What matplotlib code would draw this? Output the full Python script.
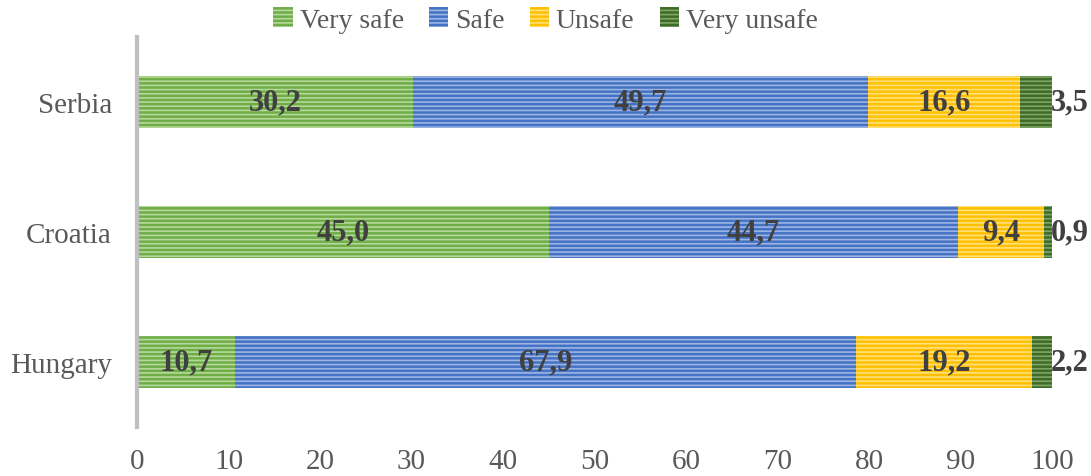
import numpy as np
import matplotlib.pyplot as plt

# Share of respondents by perceived safety (%)
countries = ['Hungary', 'Croatia', 'Serbia']
very_safe = [10.7, 45.0, 30.2]
safe = [67.9, 44.7, 49.7]
unsafe = [19.2, 9.4, 16.6]
very_unsafe = [2.2, 0.9, 3.5]

series = [('Very safe', very_safe, '#70AD47', '#B5D99C'),
          ('Safe', safe, '#4472C4', '#9DB5E3'),
          ('Unsafe', unsafe, '#FFC000', '#FFE07A'),
          ('Very unsafe', very_unsafe, '#3E6B27', '#7FA567')]

plt.rcParams['font.family'] = ['Liberation Serif', 'DejaVu Serif']
plt.rcParams['hatch.linewidth'] = 1.2

fig = plt.figure(figsize=(10.91, 4.77), dpi=100)
ax = fig.add_axes([0.1256, 0.1027, 0.8386, 0.8176])

y = np.arange(len(countries))
left = np.zeros(len(countries))
handles = []
for name, vals, col, light in series:
    vals = np.array(vals)
    bars = ax.barh(y, vals, left=left, height=0.4, color=col, edgecolor=light,
                   linewidth=0, hatch='----', label=name)
    handles.append(bars)
    for i, v in enumerate(vals):
        txt = f'{v:.1f}'.replace('.', ',')
        if name == 'Very unsafe':
            ax.text(99.9, y[i], txt, ha='left', va='center', fontsize=22,
                    fontweight='bold', color='#404040', clip_on=False)
        else:
            ax.text(left[i] + v / 2, y[i], txt, ha='center', va='center',
                    fontsize=22, fontweight='bold', color='#404040')
    left += vals

ax.set_xlim(0, 100)
ax.set_ylim(-0.5, 2.5)
ax.set_xticks(np.arange(0, 101, 10))
ax.set_yticks(y)
ax.set_yticklabels(countries)
ax.tick_params(axis='both', length=0, labelsize=21, labelcolor='#595959')
ax.tick_params(axis='x', pad=15)
ax.tick_params(axis='y', pad=18)
for s in ['top', 'right', 'bottom']:
    ax.spines[s].set_visible(False)
ax.spines['left'].set_color('#BFBFBF')
ax.spines['left'].set_linewidth(3)

leg = fig.legend(handles=handles, loc='upper center', bbox_to_anchor=(0.5, 1.035),
                 ncol=4, frameon=False, fontsize=20, handlelength=0.7,
                 handleheight=0.7, handletextpad=0.25, columnspacing=0.9)
for t in leg.get_texts():
    t.set_color('#595959')

fig.savefig('out.png', dpi=100)
